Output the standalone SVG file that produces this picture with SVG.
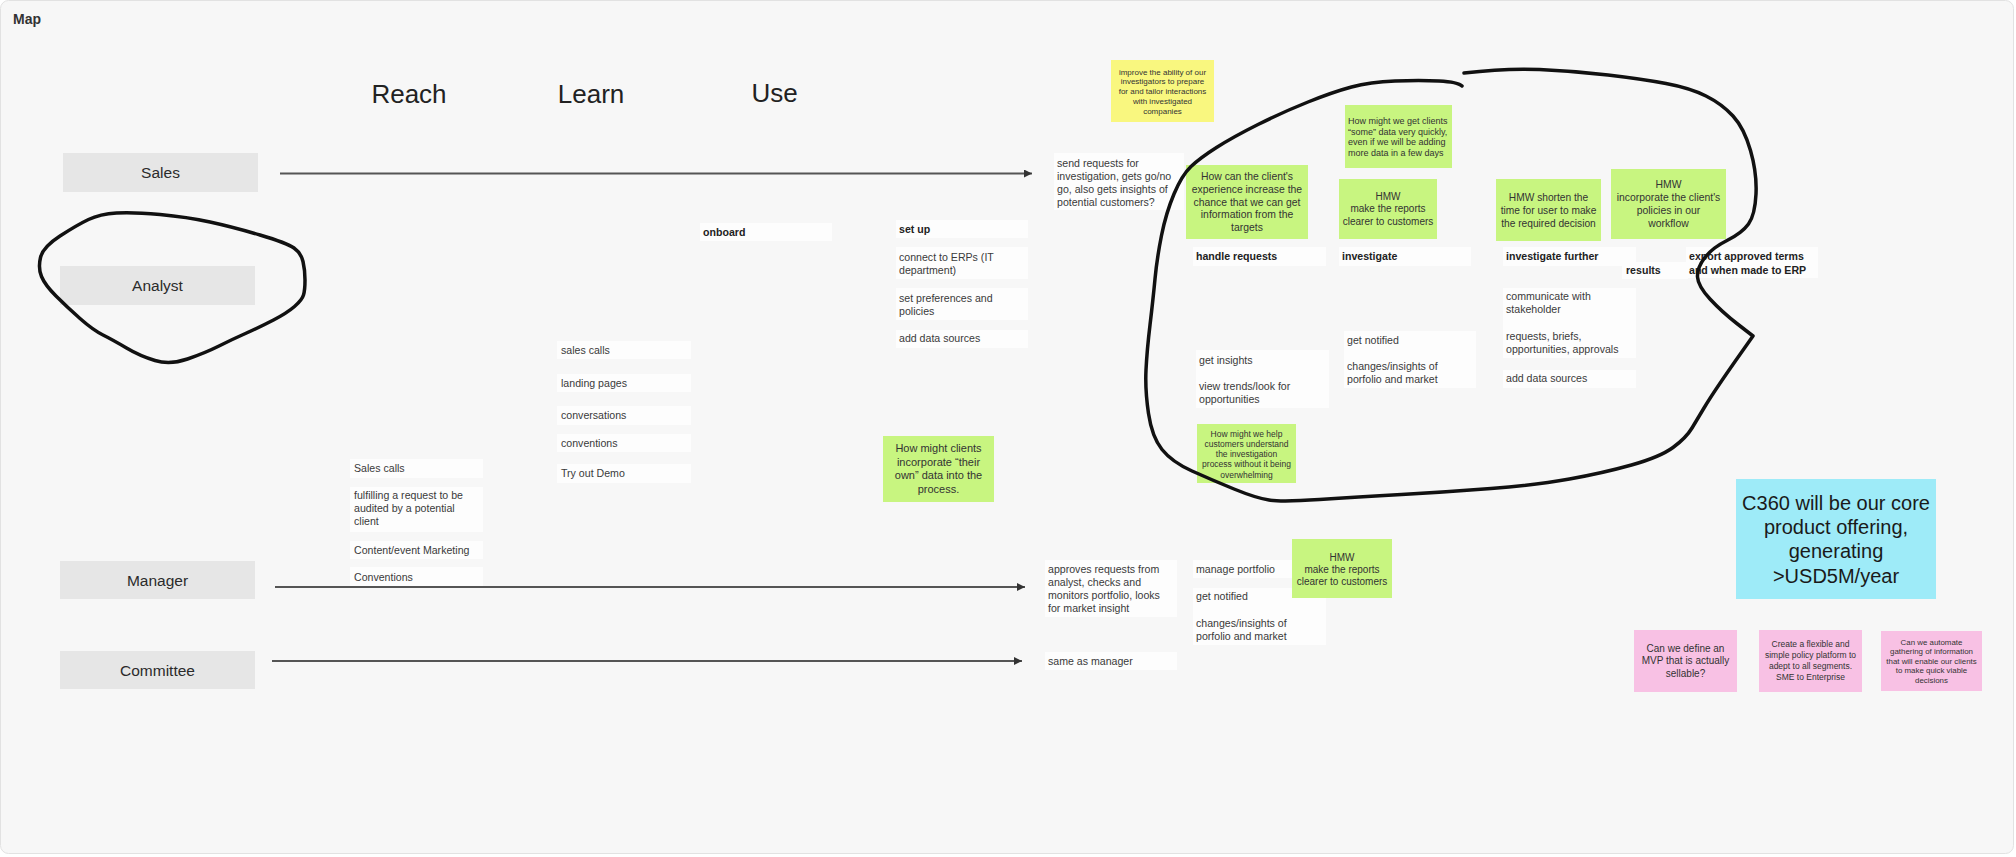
<svg xmlns="http://www.w3.org/2000/svg" width="2016" height="857" viewBox="0 0 2016 857">
<defs>
<style>
text{font-family:"Liberation Sans",Arial,sans-serif;fill:#333}
.frame{fill:#f7f7f7;stroke:#e2e2e2;stroke-width:1}
.lane{fill:#e6e6e6}
.lane-t{font-size:15.5px;text-anchor:middle;fill:#2b2b2b}
.hdr{font-size:26px;text-anchor:middle;fill:#222}
.card{fill:#fdfdfd}
.ct{font-size:10.6px;fill:#3a3a3a}
.cb{font-size:10.6px;font-weight:bold;fill:#222}
.green{fill:#c8f580}
.yellow{fill:#f9f77f}
.pink{fill:#f8c1e4}
.cyan{fill:#9eebf8}
.st{text-anchor:middle;fill:#333}
.s105{font-size:10.4px}
.s11{font-size:11px}
.s9{font-size:9px}
.s85{font-size:8.5px}
.s8{font-size:8px}
.s10{font-size:10px}
.s79{font-size:7.9px}
.s20{font-size:20px;fill:#1a1a1a}
.conn{stroke:#555;stroke-width:2;fill:none}
.loop{stroke:#111;stroke-width:3.5;fill:none;stroke-linecap:round;stroke-linejoin:round}
</style>
<marker id="arr" viewBox="0 0 8 8" refX="8" refY="4" markerWidth="8" markerHeight="8" markerUnits="userSpaceOnUse" orient="auto"><path d="M0,0 L8,4 L0,8 z" fill="#333"/></marker>
</defs>
<rect x="0" y="0" width="2016" height="857" fill="#ffffff"/>
<rect class="frame" x="0.5" y="0.5" width="2013" height="853" rx="8"/>
<text x="13" y="24" style="font-size:14px;font-weight:bold;fill:#333">Map</text>

<g id="headers">
<text class="hdr" x="409" y="103">Reach</text>
<text class="hdr" x="591" y="103">Learn</text>
<text class="hdr" x="774.5" y="102">Use</text>
</g>

<g id="lane-sales"><rect class="lane" x="63" y="153" width="195" height="39"/><text class="lane-t" x="160.5" y="178">Sales</text></g>
<g id="lane-analyst"><rect class="lane" x="60" y="266" width="195" height="39"/><text class="lane-t" x="157.5" y="291">Analyst</text></g>
<g id="lane-manager"><rect class="lane" x="60" y="561" width="195" height="38"/><text class="lane-t" x="157.5" y="585.5">Manager</text></g>
<g id="lane-committee"><rect class="lane" x="60" y="651" width="195" height="38"/><text class="lane-t" x="157.5" y="675.5">Committee</text></g>

<g id="connectors">
<line class="conn" x1="280" y1="173.5" x2="1032" y2="173.5" marker-end="url(#arr)"/>
<line class="conn" x1="275" y1="587" x2="1025" y2="587" marker-end="url(#arr)"/>
<line class="conn" x1="272" y1="661" x2="1022" y2="661" marker-end="url(#arr)"/>
</g>

<!-- Reach column -->
<g id="reach-sales-calls"><rect class="card" x="350" y="459" width="133" height="19"/><text class="ct" x="354" y="472">Sales calls</text></g>
<g id="reach-fulfilling"><rect class="card" x="350" y="487" width="133" height="45"/><text class="ct" x="354" y="499"><tspan x="354">fulfilling a request to be</tspan><tspan x="354" dy="13">audited by a potential</tspan><tspan x="354" dy="13">client</tspan></text></g>
<g id="reach-content"><rect class="card" x="350" y="541" width="133" height="18"/><text class="ct" x="354" y="554">Content/event Marketing</text></g>
<g id="reach-conventions"><rect class="card" x="350" y="567" width="133" height="19"/><text class="ct" x="354" y="581">Conventions</text></g>

<!-- Learn column -->
<g id="learn-sales-calls"><rect class="card" x="557" y="341" width="134" height="18"/><text class="ct" x="561" y="354">sales calls</text></g>
<g id="learn-landing"><rect class="card" x="557" y="374" width="134" height="18"/><text class="ct" x="561" y="387">landing pages</text></g>
<g id="learn-conversations"><rect class="card" x="557" y="406" width="134" height="19"/><text class="ct" x="561" y="419">conversations</text></g>
<g id="learn-conventions"><rect class="card" x="557" y="434" width="134" height="18"/><text class="ct" x="561" y="447">conventions</text></g>
<g id="learn-demo"><rect class="card" x="557" y="464" width="134" height="19"/><text class="ct" x="561" y="477">Try out Demo</text></g>

<!-- Use column -->
<g id="use-onboard"><rect class="card" x="700" y="223" width="132" height="18"/><text class="cb" x="703" y="236">onboard</text></g>
<g id="use-setup"><rect class="card" x="896" y="220" width="132" height="18"/><text class="cb" x="899" y="233">set up</text></g>
<g id="use-erp"><rect class="card" x="896" y="247" width="132" height="32"/><text class="ct" x="899" y="260.5"><tspan x="899">connect to ERPs (IT</tspan><tspan x="899" dy="13">department)</tspan></text></g>
<g id="use-prefs"><rect class="card" x="896" y="288" width="132" height="32"/><text class="ct" x="899" y="301.5"><tspan x="899">set preferences and</tspan><tspan x="899" dy="13">policies</tspan></text></g>
<g id="use-datasources"><rect class="card" x="896" y="330" width="132" height="18"/><text class="ct" x="899" y="342">add data sources</text></g>
<g id="note-clients-data"><rect class="green" x="883" y="436" width="111" height="66"/><text class="st s11" y="452"><tspan x="938.5">How might clients</tspan><tspan x="938.5" dy="13.5">incorporate “their</tspan><tspan x="938.5" dy="13.5">own” data into the</tspan><tspan x="938.5" dy="13.5">process.</tspan></text></g>

<!-- Sales row -->
<g id="sales-send"><rect class="card" x="1054" y="153" width="130" height="57"/><text class="ct" y="166.5"><tspan x="1057">send requests for</tspan><tspan x="1057" dy="13">investigation, gets go/no</tspan><tspan x="1057" dy="13">go, also gets insights of</tspan><tspan x="1057" dy="13">potential customers?</tspan></text></g>
<g id="note-improve"><rect class="yellow" x="1111" y="60" width="103" height="62"/><text class="st s8" y="74.5"><tspan x="1162.5">improve the ability of our</tspan><tspan x="1162.5" dy="9.8">investigators to prepare</tspan><tspan x="1162.5" dy="9.8">for and tailor interactions</tspan><tspan x="1162.5" dy="9.8">with investigated</tspan><tspan x="1162.5" dy="9.8">companies</tspan></text></g>

<!-- Analyst cluster -->
<g id="note-experience"><rect class="green" x="1186" y="165" width="122" height="74"/><text class="st s105" y="180"><tspan x="1247">How can the client's</tspan><tspan x="1247" dy="12.8">experience increase the</tspan><tspan x="1247" dy="12.8">chance that we can get</tspan><tspan x="1247" dy="12.8">information from the</tspan><tspan x="1247" dy="12.8">targets</tspan></text></g>
<g id="note-some-data"><rect class="green" x="1345" y="105" width="107" height="63"/><text class="s9" y="124"><tspan x="1348">How might we get clients</tspan><tspan x="1348" dy="10.7">“some” data very quickly,</tspan><tspan x="1348" dy="10.7">even if we will be adding</tspan><tspan x="1348" dy="10.7">more data in a few days</tspan></text></g>
<g id="note-reports"><rect class="green" x="1339" y="179" width="98" height="60"/><text class="st s10" y="199.5"><tspan x="1388">HMW</tspan><tspan x="1388" dy="12.5">make the reports</tspan><tspan x="1388" dy="12.5">clearer to customers</tspan></text></g>
<g id="note-shorten"><rect class="green" x="1496" y="179" width="105" height="62"/><text class="st s105" style="font-size:10.2px" y="200.5"><tspan x="1548.5">HMW shorten the</tspan><tspan x="1548.5" dy="13">time for user to make</tspan><tspan x="1548.5" dy="13">the required decision</tspan></text></g>
<g id="note-policies"><rect class="green" x="1611" y="169" width="115" height="70"/><text class="st s105" y="187.5"><tspan x="1668.5">HMW</tspan><tspan x="1668.5" dy="13">incorporate the client's</tspan><tspan x="1668.5" dy="13">policies in our</tspan><tspan x="1668.5" dy="13">workflow</tspan></text></g>

<g id="analyst-handle"><rect class="card" x="1193" y="247" width="133" height="19"/><text class="cb" x="1196" y="260">handle requests</text></g>
<g id="analyst-investigate"><rect class="card" x="1339" y="247" width="132" height="19"/><text class="cb" x="1342" y="260">investigate</text></g>
<g id="analyst-further"><rect class="card" x="1503" y="247" width="133" height="19"/><text class="cb" x="1506" y="260">investigate further</text></g>
<g id="analyst-results"><rect class="card" x="1622" y="262" width="66" height="17"/><text class="cb" x="1626" y="273.5">results</text></g>
<g id="analyst-export"><rect class="card" x="1686" y="247" width="132" height="31"/><text class="cb" y="260"><tspan x="1689">export approved terms</tspan><tspan x="1689" dy="13.5">and when made to ERP</tspan></text></g>

<g id="analyst-communicate"><rect class="card" x="1503" y="288" width="133" height="70"/><text class="ct" y="300"><tspan x="1506">communicate with</tspan><tspan x="1506" dy="13.3">stakeholder</tspan><tspan x="1506" dy="26.6">requests, briefs,</tspan><tspan x="1506" dy="13.3">opportunities, approvals</tspan></text></g>
<g id="analyst-datasources"><rect class="card" x="1503" y="370" width="133" height="18"/><text class="ct" x="1506" y="382">add data sources</text></g>
<g id="analyst-notified"><rect class="card" x="1344" y="331" width="132" height="57"/><text class="ct" y="343.5"><tspan x="1347">get notified</tspan><tspan x="1347" dy="26.6">changes/insights of</tspan><tspan x="1347" dy="13.3">porfolio and market</tspan></text></g>
<g id="analyst-insights"><rect class="card" x="1196" y="350" width="133" height="58"/><text class="ct" y="363.5"><tspan x="1199">get insights</tspan><tspan x="1199" dy="26.6">view trends/look for</tspan><tspan x="1199" dy="13.3">opportunities</tspan></text></g>
<g id="note-understand"><rect class="green" x="1197" y="424" width="99" height="59"/><text class="st s85" y="436.5"><tspan x="1246.5">How might we help</tspan><tspan x="1246.5" dy="10.3">customers understand</tspan><tspan x="1246.5" dy="10.3">the investigation</tspan><tspan x="1246.5" dy="10.3">process without it being</tspan><tspan x="1246.5" dy="10.3">overwhelming</tspan></text></g>

<!-- Manager / Committee -->
<g id="manager-approves"><rect class="card" x="1045" y="560" width="132" height="57"/><text class="ct" y="572.5"><tspan x="1048">approves requests from</tspan><tspan x="1048" dy="13.2">analyst, checks and</tspan><tspan x="1048" dy="13.2">monitors portfolio, looks</tspan><tspan x="1048" dy="13.2">for market insight</tspan></text></g>
<g id="manager-portfolio"><rect class="card" x="1193" y="560" width="133" height="18"/><text class="ct" x="1196" y="573">manage portfolio</text></g>
<g id="manager-notified"><rect class="card" x="1193" y="588" width="133" height="57"/><text class="ct" y="600"><tspan x="1196">get notified</tspan><tspan x="1196" dy="26.6">changes/insights of</tspan><tspan x="1196" dy="13.3">porfolio and market</tspan></text></g>
<g id="note-reports-manager"><rect class="green" x="1292" y="539" width="100" height="59"/><text class="st s10" y="560.5"><tspan x="1342">HMW</tspan><tspan x="1342" dy="12.3">make the reports</tspan><tspan x="1342" dy="12.3">clearer to customers</tspan></text></g>
<g id="committee-same"><rect class="card" x="1045" y="652" width="132" height="18"/><text class="ct" x="1048" y="664.5">same as manager</text></g>

<!-- Right side -->
<g id="note-c360"><rect class="cyan" x="1736" y="479" width="200" height="120"/><text class="st s20" y="510"><tspan x="1836">C360 will be our core</tspan><tspan x="1836" dy="24.2">product offering,</tspan><tspan x="1836" dy="24.2">generating</tspan><tspan x="1836" dy="24.2">&gt;USD5M/year</tspan></text></g>
<g id="note-mvp"><rect class="pink" x="1634" y="630" width="103" height="62"/><text class="st s10" y="651.5"><tspan x="1685.5">Can we define an</tspan><tspan x="1685.5" dy="12.5">MVP that is actually</tspan><tspan x="1685.5" dy="12.5">sellable?</tspan></text></g>
<g id="note-policy-platform"><rect class="pink" x="1759" y="630" width="103" height="62"/><text class="st s85" y="647"><tspan x="1810.5">Create a flexible and</tspan><tspan x="1810.5" dy="11">simple policy platform to</tspan><tspan x="1810.5" dy="11">adept to all segments.</tspan><tspan x="1810.5" dy="11">SME to Enterprise</tspan></text></g>
<g id="note-automate"><rect class="pink" x="1881" y="631" width="101" height="60"/><text class="st s79" y="644.5"><tspan x="1931.5">Can we automate</tspan><tspan x="1931.5" dy="9.5">gathering of information</tspan><tspan x="1931.5" dy="9.5">that will enable our clients</tspan><tspan x="1931.5" dy="9.5">to make quick viable</tspan><tspan x="1931.5" dy="9.5">decisions</tspan></text></g>

<!-- hand-drawn loops -->
<g id="loops">
<path class="loop" d="M88.5,219.5 Q100,214 116.5,213 Q133,212 160,214.5 Q187,217 210,222 Q233,227 260,235 Q287,243 294,248 Q301,253 303,261.5 Q305,270 305,280 Q305,290 303.5,295 Q302,300 294.5,306.5 Q287,313 273.5,320 Q260,327 246.5,333 Q233,339 219,346 Q205,353 187.5,359 Q170,365 155,360.5 Q140,356 126.5,348 Q113,340 103,335 Q93,330 80,318.5 Q67,307 56,296 Q45,285 41.5,276.5 Q38,268 40.5,257.5 Q43,247 60,236 Q77,225 88.5,219.5 Z"/>
<path class="loop" d="M1464,73 Q1505,68 1539.5,69.5 Q1574,71 1608,75 Q1642,79 1666,83.5 Q1690,88 1706,96 Q1722,104 1733,116 Q1744,128 1750.5,150.5 Q1757,173 1756,194 Q1755,215 1748.5,224 Q1742,233 1727,240.5 Q1712,248 1704.5,258 Q1697,268 1697.5,277 Q1698,286 1710,299 Q1722,312 1737.5,324 L1753,336 L1741,353 Q1729,370 1719.5,384 Q1710,398 1704,408 Q1698,418 1692,428 Q1686,438 1673,447.5 Q1660,457 1631.5,465 Q1603,473 1569.5,479 Q1536,485 1491,488.5 Q1446,492 1401.5,494.5 Q1357,497 1319.5,499.5 Q1282,502 1269,500 Q1256,498 1234,489 Q1212,480 1192,471 Q1172,462 1162,449.5 Q1152,437 1148.5,413.5 Q1145,390 1146,370 Q1147,350 1150,325 Q1153,300 1155,279 Q1157,258 1161.5,235.5 Q1166,213 1174,194 Q1182,175 1191,166.5 Q1200,158 1216.5,147.5 Q1233,137 1258,124.5 Q1283,112 1308,102 Q1333,92 1351.5,87 Q1370,82 1395,81 Q1420,80 1439,81 Q1458,82 1462,86"/>
</g>
</svg>
